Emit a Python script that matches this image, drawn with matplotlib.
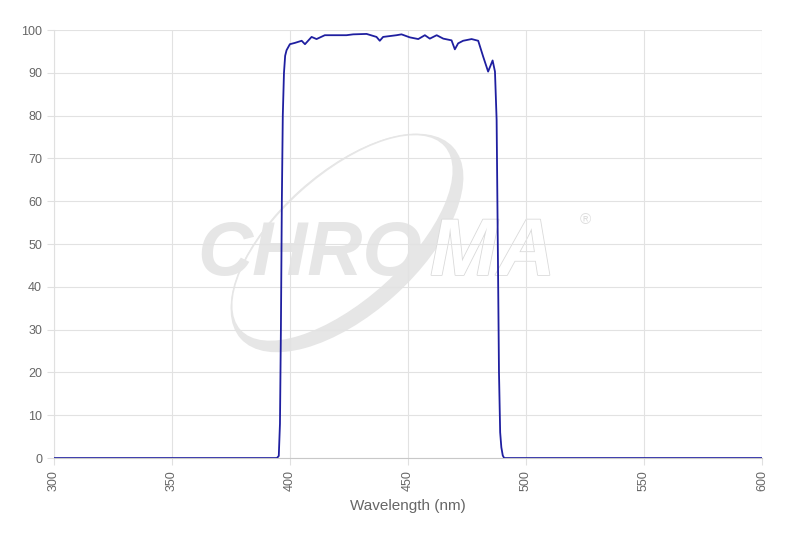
import numpy as np
import matplotlib.pyplot as plt
from matplotlib.patches import Ellipse
import matplotlib.patheffects as pe

# ---------------------------------------------------------------
# DATA
# ---------------------------------------------------------------
wavelength = [300, 394.5, 395.3, 395.8, 396.2, 396.6, 397.0, 397.5, 398.0, 398.6,
              400.0, 402.1, 405.0, 406.4, 409.2, 411.3, 414.8, 419.8, 424.0, 426.8,
              432.5, 436.7, 438.1, 439.5, 445.2, 447.3, 450.8, 454.4, 457.2, 459.3,
              462.2, 465.0, 468.5, 469.9, 471.3, 473.4, 477.0, 479.8, 481.9, 484.0,
              485.9, 486.9, 487.6, 488.1, 488.6, 489.1, 489.6, 490.2, 490.8, 600]
transmission = [0, 0, 0.5, 8, 30, 60, 80, 90, 94, 95.3,
                96.7, 97.0, 97.5, 96.7, 98.4, 97.9, 98.8, 98.8, 98.8, 99.0,
                99.1, 98.4, 97.5, 98.4, 98.8, 99.0, 98.3, 97.9, 98.8, 98.0,
                98.8, 98.0, 97.6, 95.5, 96.9, 97.5, 97.9, 97.5, 93.8, 90.3,
                92.9, 90.3, 79, 50, 20, 6, 2.5, 0.6, 0, 0]

x_ticks = [300, 350, 400, 450, 500, 550, 600]
y_ticks = list(range(0, 101, 10))

plt.rcParams["font.family"] = ["Liberation Sans", "DejaVu Sans"]

# ---------------------------------------------------------------
# FIGURE
# ---------------------------------------------------------------
fig = plt.figure(figsize=(7.92, 5.37), dpi=100)

# watermark, drawn in pixel coordinates on a background axes
bg = fig.add_axes([0, 0, 1, 1], zorder=0)
bg.set_xlim(0, 792)
bg.set_ylim(0, 537)
bg.axis("off")

cx, cy, ang = 347, 294, 42
bg.add_patch(Ellipse((cx, cy), 286, 142, angle=ang, facecolor="#e6e6e6",
                     edgecolor="none"))
bg.add_patch(Ellipse((cx - 4.5, cy + 5), 276, 126, angle=ang, facecolor="white",
                     edgecolor="none"))
bg.add_patch(Ellipse((cx - 4.5, cy + 5), 276, 126, angle=ang, facecolor="none",
                     edgecolor="#e6e6e6", linewidth=1.2))
bg.text(422, 262, "CHRO", fontsize=55, fontweight="bold", fontstyle="italic",
        color="#e6e6e6", ha="right", va="baseline")
bg.text(430, 262, "MA", fontsize=58, fontweight="bold", fontstyle="italic",
        color="white", ha="left", va="baseline",
        path_effects=[pe.withStroke(linewidth=1.2, foreground="#dadada")])
bg.text(585, 317, "®", fontsize=11, color="#dedede", ha="center", va="center")

# main chart
ax = fig.add_axes([0.068, 0.147, 0.894, 0.797], zorder=1)
ax.patch.set_alpha(0)

ax.plot(wavelength, transmission, color="#1f1fa0", linewidth=1.3, zorder=3)

ax.set_xlim(300, 600)
ax.set_ylim(0, 100)
ax.set_xticks(x_ticks)
ax.set_yticks(y_ticks)
ax.tick_params(axis="x", labelrotation=90)
ax.tick_params(colors="#e0e0e0", labelcolor="#666666", labelsize=9, length=5, width=0.8)
ax.grid(True, color="#e2e2e2", linewidth=0.8)
ax.set_axisbelow(True)

for side in ["top", "right"]:
    ax.spines[side].set_visible(False)
ax.spines["left"].set_color("#e0e0e0")
ax.spines["bottom"].set_color("#c8c8c8")

ax.set_xlabel("Wavelength (nm)", color="#666666", fontsize=11, labelpad=6)

plt.savefig("out.png", dpi=100)
